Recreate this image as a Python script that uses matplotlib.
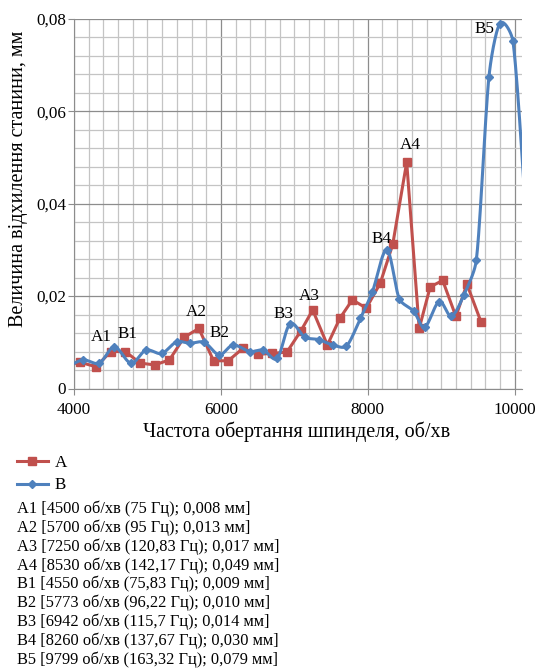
import numpy as np
import matplotlib
matplotlib.use('Agg')
import matplotlib.pyplot as plt
from matplotlib.ticker import MultipleLocator, FuncFormatter
from matplotlib.lines import Line2D

plt.rcParams['font.family'] = ['Liberation Serif', 'DejaVu Serif']

# Ряд A (частота, об/хв; відхилення, мм)
rpm_a = [3900, 4080, 4300, 4500, 4700, 4900, 5100, 5300, 5500, 5700, 5900, 6100,
         6300, 6500, 6700, 6900, 7090, 7250, 7450, 7620, 7790, 7980, 8170, 8340,
         8530, 8700, 8850, 9020, 9200, 9350, 9540]
dev_a = [0.0050, 0.0057, 0.0047, 0.008, 0.0080, 0.0055, 0.0051, 0.0062, 0.0111, 0.013,
         0.0060, 0.0060, 0.0087, 0.0074, 0.0076, 0.0079, 0.0125, 0.017, 0.0094, 0.0152,
         0.0192, 0.0174, 0.0228, 0.0312, 0.049, 0.0130, 0.0220, 0.0234, 0.0156, 0.0226,
         0.0145]

# Ряд B
rpm_b = [3950, 4127, 4344, 4550, 4776, 4980, 5193, 5397, 5578, 5773, 5977, 6167,
         6395, 6575, 6766, 6942, 7143, 7330, 7528, 7710, 7900, 8064, 8260, 8430,
         8626, 8776, 8971, 9139, 9310, 9479, 9650, 9799, 9977, 10160]
dev_b = [0.0050, 0.0062, 0.0055, 0.009, 0.0055, 0.0083, 0.0076, 0.0101, 0.0098, 0.010,
         0.0073, 0.0094, 0.0080, 0.0083, 0.0065, 0.014, 0.0111, 0.0106, 0.0094, 0.0092,
         0.0152, 0.0210, 0.030, 0.0194, 0.0167, 0.0133, 0.0188, 0.0157, 0.0203, 0.0279,
         0.0675, 0.079, 0.0752, 0.036]

# Резонансні піки
peak_names = ['A1', 'A2', 'A3', 'A4', 'B1', 'B2', 'B3', 'B4', 'B5']
peak_rpm = [4500, 5700, 7250, 8530, 4550, 5773, 6942, 8260, 9799]
peak_hz = ['75', '95', '120,83', '142,17', '75,83', '96,22', '115,7', '137,67', '163,32']
peak_mm = [0.008, 0.013, 0.017, 0.049, 0.009, 0.010, 0.014, 0.030, 0.079]
# зсув підпису від точки, пікселі
peak_offs = [(-9, 15), (-3, 16), (-3, 14), (4, 17), (13, 13), (15, 9), (-7, 10), (-5, 11), (-15, -5)]

red = '#C0504D'
blue = '#4F81BD'
xmin, xmax = 4000, 10100
ymin, ymax = 0, 0.08


def smooth(x, y, n=24):
    # згладжена лінія: криві Безьє з дотичними Catmull-Rom,
    # довжину дотичної обмежено третиною хорди, щоб не було викидів
    px = (np.asarray(x, float) - xmin) / (xmax - xmin) * 448
    py = (np.asarray(y, float) - ymin) / (ymax - ymin) * 369.5
    P = np.column_stack([px, py])
    out = [P[0]]
    t = np.linspace(0, 1, n)[1:, None]

    def lim(v, chord):
        L = np.hypot(*v)
        m = chord / 3
        return v * (m / L) if L > m else v

    for i in range(len(P) - 1):
        p0 = P[i - 1] if i > 0 else P[i]
        p1, p2 = P[i], P[i + 1]
        p3 = P[i + 2] if i + 2 < len(P) else P[i + 1]
        chord = np.hypot(*(p2 - p1))
        b1 = p1 + lim((p2 - p0) / 6, chord)
        b2 = p2 - lim((p3 - p1) / 6, chord)
        seg = (1 - t) ** 3 * p1 + 3 * (1 - t) ** 2 * t * b1 + 3 * (1 - t) * t ** 2 * b2 + t ** 3 * p2
        out.extend(seg)
    out = np.array(out)
    return out[:, 0] / 448 * (xmax - xmin) + xmin, out[:, 1] / 369.5 * (ymax - ymin) + ymin


fig = plt.figure(figsize=(5.36, 6.69), dpi=100)
ax = fig.add_axes([74 / 536, 1 - 388.5 / 669, 448 / 536, 369.5 / 669])

ax.plot(rpm_a, dev_a, color=red, lw=2.2, marker='s', ms=6, mec=red, mfc=red, zorder=3)
sx, sy = smooth(rpm_b, dev_b)
ax.plot(sx, sy, color=blue, lw=2.2, zorder=4)
inside = [(r, v) for r, v in zip(rpm_b, dev_b) if xmin <= r <= xmax]
ax.plot([p[0] for p in inside], [p[1] for p in inside], ls='none', marker='D', ms=4.5,
        color=blue, zorder=4)

for name, r, v, (dx, dy) in zip(peak_names, peak_rpm, peak_mm, peak_offs):
    ax.annotate(name, (r, v), xytext=(dx, dy), textcoords='offset pixels',
                ha='center', va='center', fontsize=12.3, zorder=5)

ax.set_xlim(xmin, xmax)
ax.set_ylim(ymin, ymax)
ax.xaxis.set_major_locator(MultipleLocator(2000))
ax.xaxis.set_minor_locator(MultipleLocator(200))
ax.yaxis.set_major_locator(MultipleLocator(0.02))
ax.yaxis.set_minor_locator(MultipleLocator(0.004))
ax.yaxis.set_major_formatter(FuncFormatter(lambda v, p: '0' if v == 0 else ('%.2f' % v).replace('.', ',')))
ax.grid(which='major', color='#8c8c8c', lw=0.9)
ax.grid(which='minor', color='#c4c4c4', lw=0.9)
ax.set_axisbelow(True)
for s in ['top', 'right']:
    ax.spines[s].set_visible(False)
for s in ['left', 'bottom']:
    ax.spines[s].set_color('#8c8c8c')
ax.tick_params(which='major', length=4, color='#8c8c8c', labelsize=12.3)
ax.tick_params(axis='x', pad=6)
ax.tick_params(axis='y', pad=1.5)
ax.tick_params(which='minor', length=0)

ax.set_xlabel('Частота обертання шпинделя, об/хв', fontsize=14.5)
ax.xaxis.set_label_coords(0.498, -0.116)
ax.xaxis.label.set_va('center')
ax.set_ylabel('Величина відхилення станини, мм', fontsize=14.5)
ax.yaxis.set_label_coords(-0.123, 0.567)
ax.yaxis.label.set_va('center')

handles = [Line2D([], [], color=red, lw=2.2, marker='s', ms=6),
           Line2D([], [], color=blue, lw=2.2, marker='D', ms=4)]
fig.legend(handles, ['A', 'B'], loc='upper left', bbox_to_anchor=(17 / 536, 1 - 455 / 669),
           frameon=False, fontsize=12.3, handlelength=1.8, handletextpad=0.4,
           labelspacing=0.38, borderpad=0, borderaxespad=0)

for i, (name, r, hz, v) in enumerate(zip(peak_names, peak_rpm, peak_hz, peak_mm)):
    line = '%s [%d об/хв (%s Гц); %s мм]' % (name, r, hz, ('%.3f' % v).replace('.', ','))
    fig.text(17 / 536, 1 - (509 + i * 18.8) / 669, line, fontsize=11.8, va='center', ha='left')

fig.savefig('out.png', dpi=100)
